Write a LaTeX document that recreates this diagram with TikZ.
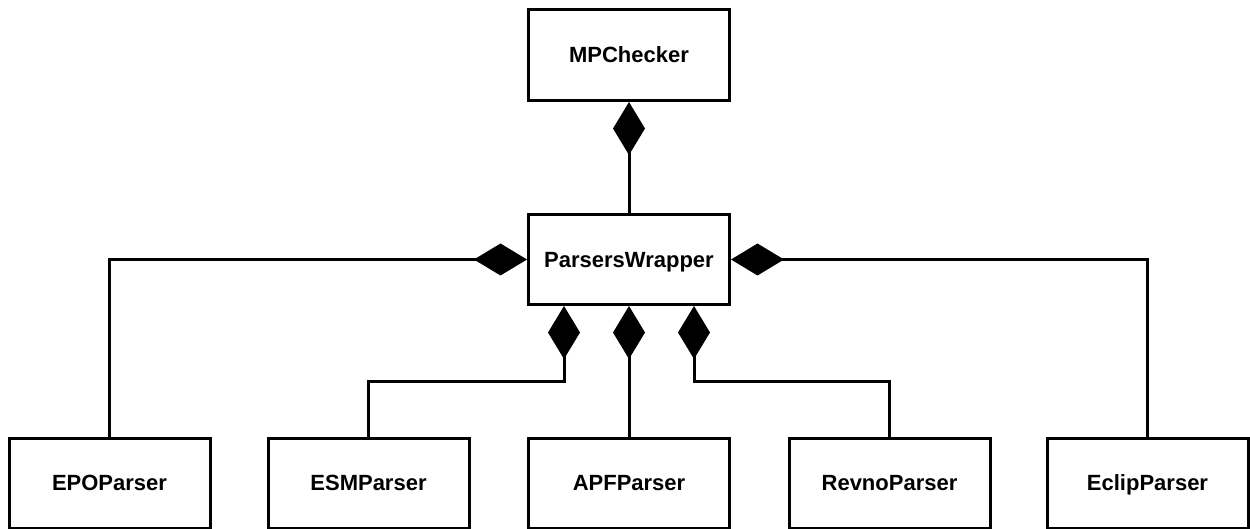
\documentclass[tikz,border=0pt]{standalone}
\usepackage{fontspec}
\setmainfont{Liberation Sans}
\usetikzlibrary{arrows.meta}
\begin{document}
\begin{tikzpicture}[x=1pt,y=-1pt,
  cls/.style={draw,line width=3pt,fill=white,minimum width=201pt,minimum height=90pt,inner sep=0pt,text height=16pt,text depth=0.2pt,font=\bfseries\fontsize{22}{26}\selectfont},
  comp/.style={line width=3pt,-{Diamond[length=53pt,width=32pt,line width=0pt]}}]
\useasboundingbox (0,0) rectangle (1250,529);
\node[cls,minimum height=91pt] (mp) at (629,55) {MPChecker};
\node[cls] (pw) at (629,259.5) {ParsersWrapper};
\node[cls] (epo) at (109.5,483) {EPOParser};
\node[cls] (esm) at (368.5,483) {ESMParser};
\node[cls] (apf) at (629,483) {APFParser};
\node[cls] (rev) at (889.5,483) {RevnoParser};
\node[cls] (ecl) at (1147.5,483) {EclipParser};
\draw[comp] (pw.north) -- (mp.south);
\draw[comp] (epo.north) |- (pw.west);
\draw[comp] (ecl.north) |- (pw.east);
\draw[comp] (apf.north) -- (pw.south);
\draw[comp] (esm.north) -- ++(0,-55) -| ([xshift=-65pt]pw.south);
\draw[comp] (rev.north) -- ++(0,-55) -| ([xshift=65pt]pw.south);
\end{tikzpicture}
\end{document}
